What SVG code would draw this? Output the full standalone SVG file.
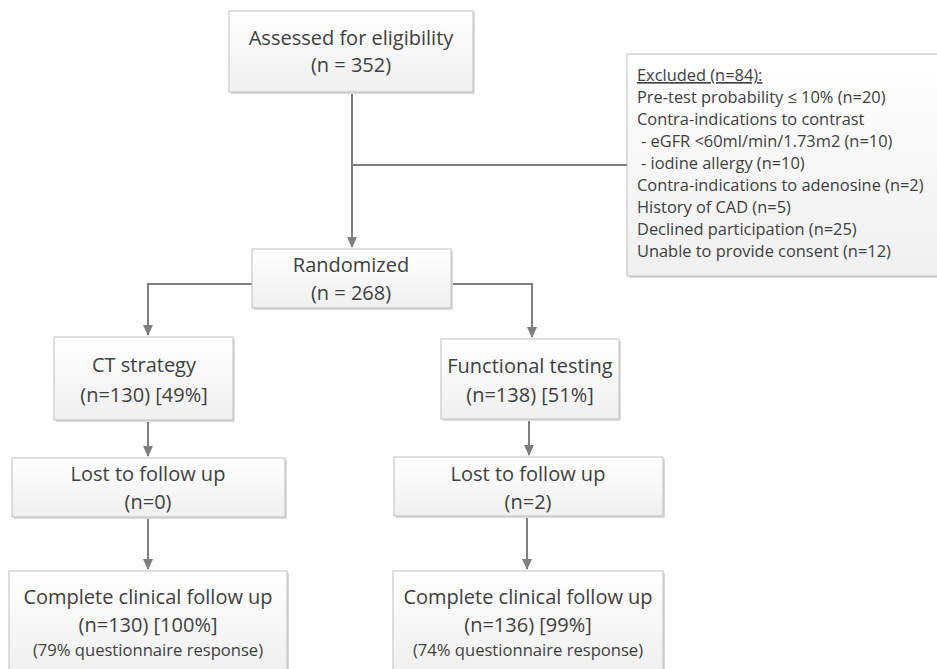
<svg xmlns="http://www.w3.org/2000/svg" width="937" height="669" viewBox="0 0 937 669">
<style>
.box{fill:url(#g);stroke:#bfbfbf;stroke-width:1}
.sh{fill:#dcdcdc}
.t{font-family:"Open Sans","Liberation Sans",sans-serif;font-size:20px;fill:#404040;text-anchor:middle}
.s{font-size:16.6px}
.ex{font-family:"Open Sans","Liberation Sans",sans-serif;font-size:16.4px;fill:#404040}
.c{fill:none;stroke:#7f7f7f;stroke-width:2}
</style>
<defs>
<linearGradient id="g" x1="0" y1="0" x2="0" y2="1">
<stop offset="0" stop-color="#ffffff"/>
<stop offset="1" stop-color="#f0f0f0"/>
</linearGradient>
<marker id="a" markerWidth="12" markerHeight="12" refX="10" refY="6" orient="auto" markerUnits="userSpaceOnUse">
<path d="M0,1 L11,6 L0,11 Z" fill="#7f7f7f"/>
</marker>
</defs>
<g id="connectors">
<path class="c" d="M352,92 V247" marker-end="url(#a)"/>
<path class="c" d="M352,165 H627"/>
<path class="c" d="M252,284 H148 V335" marker-end="url(#a)"/>
<path class="c" d="M451,284 H532 V337" marker-end="url(#a)"/>
<path class="c" d="M148,420 V456" marker-end="url(#a)"/>
<path class="c" d="M529,419 V455" marker-end="url(#a)"/>
<path class="c" d="M148,517 V569" marker-end="url(#a)"/>
<path class="c" d="M527,516 V569" marker-end="url(#a)"/>
</g>
<g id="assessed">
<rect class="sh" x="231" y="13" width="244" height="81"/>
<rect class="box" x="229" y="11" width="244" height="81"/>
<text class="t" x="351" y="45">Assessed for eligibility</text>
<text class="t" x="351" y="72">(n = 352)</text>
</g>
<g id="excluded">
<rect class="sh" x="629" y="56" width="310" height="222"/>
<rect class="box" x="627" y="54" width="312" height="222"/>
<text class="ex" x="637" y="81" text-decoration="underline">Excluded (n=84):</text>
<text class="ex" x="637" y="103">Pre-test probability ≤ 10% (n=20)</text>
<text class="ex" x="637" y="125">Contra-indications to contrast</text>
<text class="ex" x="641" y="147">- eGFR &lt;60ml/min/1.73m2 (n=10)</text>
<text class="ex" x="641" y="169">- iodine allergy (n=10)</text>
<text class="ex" x="637" y="191">Contra-indications to adenosine (n=2)</text>
<text class="ex" x="637" y="213">History of CAD (n=5)</text>
<text class="ex" x="637" y="235">Declined participation (n=25)</text>
<text class="ex" x="637" y="257">Unable to provide consent (n=12)</text>
</g>
<g id="randomized">
<rect class="sh" x="254" y="251" width="199" height="59"/>
<rect class="box" x="252" y="249" width="199" height="59"/>
<text class="t" x="351" y="272">Randomized</text>
<text class="t" x="351" y="300">(n = 268)</text>
</g>
<g id="ct">
<rect class="sh" x="56" y="339" width="179" height="83"/>
<rect class="box" x="54" y="337" width="179" height="83"/>
<text class="t" x="144" y="372">CT strategy</text>
<text class="t" x="144" y="402">(n=130) [49%]</text>
</g>
<g id="functional">
<rect class="sh" x="443" y="341" width="178" height="80"/>
<rect class="box" x="441" y="339" width="178" height="80"/>
<text class="t" x="530" y="373">Functional testing</text>
<text class="t" x="530" y="402">(n=138) [51%]</text>
</g>
<g id="lost-ct">
<rect class="sh" x="14" y="460" width="273" height="59"/>
<rect class="box" x="12" y="458" width="273" height="59"/>
<text class="t" x="148" y="481">Lost to follow up</text>
<text class="t" x="148" y="509">(n=0)</text>
</g>
<g id="lost-func">
<rect class="sh" x="396" y="459" width="269" height="59"/>
<rect class="box" x="394" y="457" width="269" height="59"/>
<text class="t" x="528" y="481">Lost to follow up</text>
<text class="t" x="528" y="509">(n=2)</text>
</g>
<g id="complete-ct">
<rect class="sh" x="11" y="573" width="278" height="100"/>
<rect class="box" x="9" y="571" width="278" height="100"/>
<text class="t" x="148" y="604">Complete clinical follow up</text>
<text class="t" x="148" y="632">(n=130) [100%]</text>
<text class="t s" x="148" y="656">(79% questionnaire response)</text>
</g>
<g id="complete-func">
<rect class="sh" x="395" y="573" width="270" height="100"/>
<rect class="box" x="393" y="571" width="270" height="100"/>
<text class="t" x="528" y="604">Complete clinical follow up</text>
<text class="t" x="528" y="632">(n=136) [99%]</text>
<text class="t s" x="528" y="656">(74% questionnaire response)</text>
</g>
</svg>
